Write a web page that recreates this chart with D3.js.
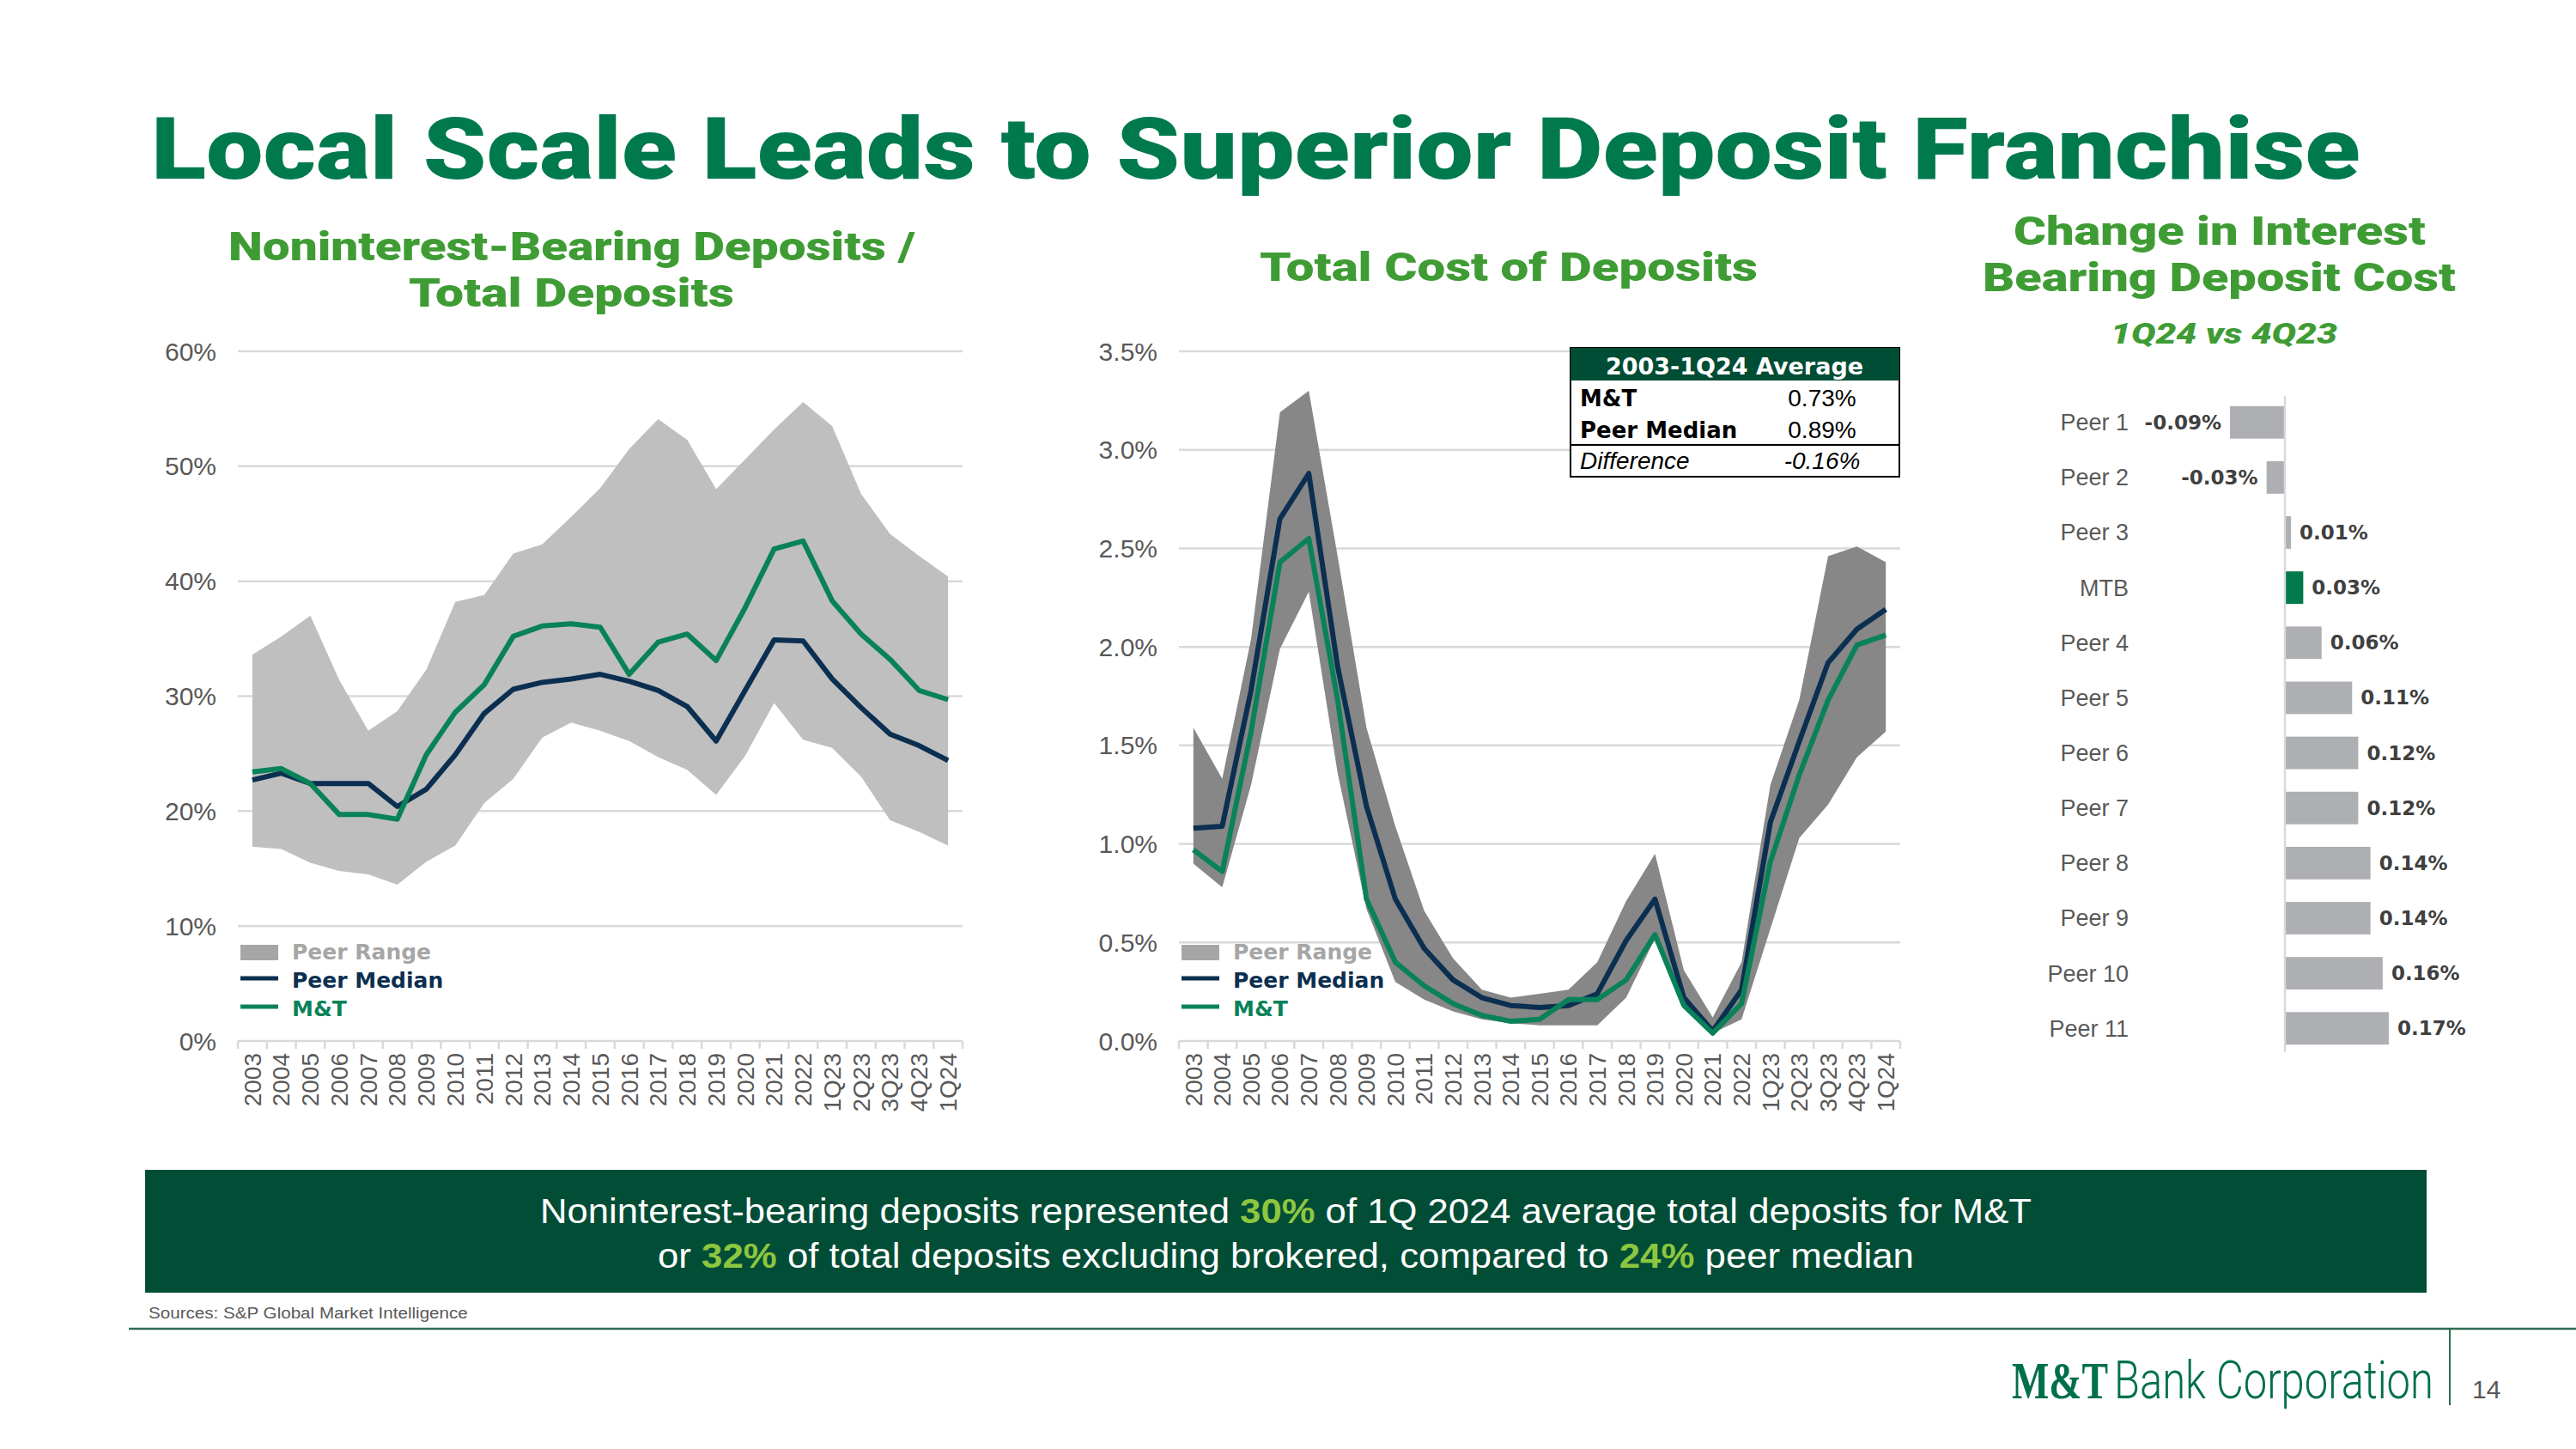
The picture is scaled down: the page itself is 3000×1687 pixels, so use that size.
<!DOCTYPE html>
<html>
<head>
<meta charset="utf-8">
<script src="https://cdn.jsdelivr.net/npm/d3@7.9.0/dist/d3.min.js"></script>
<style>
  html, body { margin: 0; padding: 0; background: #fff; }
  svg { display: block; }
</style>
</head>
<body>
<svg id="slide" width="3000" height="1687"></svg>
<script>
// periods shared by both line charts
const periods = ['2003','2004','2005','2006','2007','2008','2009','2010','2011','2012',
  '2013','2014','2015','2016','2017','2018','2019','2020','2021','2022',
  '1Q23','2Q23','3Q23','4Q23','1Q24'];

// noninterest-bearing deposits / total deposits (%)
const nibHigh = [33.6,35.2,37.0,31.4,27.0,28.7,32.3,38.2,38.8,42.4,43.2,45.6,48.1,51.5,54.1,52.3,48.0,50.6,53.2,55.6,53.5,47.6,44.1,42.2,40.4];
const nibLow = [16.9,16.7,15.5,14.8,14.5,13.6,15.6,17.0,20.7,22.8,26.4,27.7,27.0,26.1,24.7,23.6,21.4,24.8,29.4,26.2,25.5,23.0,19.2,18.2,17.0];
const nibMedian = [22.7,23.3,22.4,22.4,22.4,20.4,21.9,24.9,28.5,30.6,31.2,31.5,31.9,31.3,30.5,29.1,26.1,30.5,34.9,34.8,31.5,29.0,26.7,25.7,24.4];
const nibMT = [23.4,23.7,22.4,19.7,19.7,19.3,24.9,28.6,31.0,35.2,36.1,36.3,36.0,31.9,34.7,35.4,33.1,37.7,42.8,43.5,38.3,35.4,33.2,30.5,29.7];
const nibTicks = [0,10,20,30,40,50,60];

// total cost of deposits (%)
const costHigh = [1.59,1.33,2.04,3.19,3.30,2.46,1.59,1.09,0.66,0.42,0.26,0.22,0.24,0.26,0.40,0.71,0.95,0.36,0.12,0.40,1.30,1.73,2.46,2.51,2.43];
const costLow = [0.90,0.78,1.30,1.99,2.28,1.36,0.67,0.30,0.21,0.15,0.11,0.09,0.08,0.08,0.08,0.22,0.52,0.18,0.04,0.11,0.57,1.03,1.20,1.44,1.57];
const costMedian = [1.08,1.09,1.78,2.65,2.88,1.90,1.19,0.72,0.47,0.31,0.22,0.18,0.17,0.18,0.24,0.51,0.72,0.22,0.05,0.26,1.11,1.52,1.92,2.09,2.19];
const costMT = [0.97,0.86,1.57,2.43,2.55,1.73,0.72,0.40,0.28,0.19,0.13,0.10,0.11,0.21,0.21,0.31,0.54,0.18,0.04,0.19,0.91,1.35,1.73,2.01,2.06];
const costTicks = [0,0.5,1,1.5,2,2.5,3,3.5];

// average table
const avgLabels = ['M&T','Peer Median','Difference'];
const avgValues = ['0.73%','0.89%','-0.16%'];

// change in interest bearing deposit cost, 1Q24 vs 4Q23 (%)
const peers = ['Peer 1','Peer 2','Peer 3','MTB','Peer 4','Peer 5','Peer 6','Peer 7','Peer 8','Peer 9','Peer 10','Peer 11'];
const peerChange = [-0.09,-0.03,0.01,0.03,0.06,0.11,0.12,0.12,0.14,0.14,0.16,0.17];

const legendItems = ['Peer Range','Peer Median','M&T'];

const GREEN = '#007a4d';
const SUB = '#3f9c35';
const NAVY = '#0b2f50';
const LINE_GREEN = '#0a8259';
const TXT = '#595959';
const sans = "'Liberation Sans', Arial, sans-serif";
const heavy = "Roboto, 'DejaVu Sans', sans-serif";
const wide = "'DejaVu Sans', Verdana, sans-serif";

const svg = d3.select('#slide');

// text helper; when a width is given the text is squeezed/stretched with a transform
function label(x, y, text, opts = {}) {
  const t = svg.append('text')
    .attr('x', 0).attr('y', 0)
    .attr('font-family', opts.family || sans)
    .attr('font-size', opts.size || 28)
    .attr('font-weight', opts.weight || 400)
    .attr('fill', opts.fill || TXT)
    .attr('text-anchor', opts.anchor || 'start')
    .text(text);
  if (opts.italic) t.attr('font-style', 'italic');
  let sx = 1;
  if (opts.len) sx = opts.len / t.node().getComputedTextLength();
  t.attr('transform', `translate(${x},${y}) scale(${sx},1)`);
  return t;
}

// titles
label(176, 208, 'Local Scale Leads to Superior Deposit Franchise',
  { family: heavy, size: 100, weight: 900, fill: GREEN, len: 2573 });
label(266, 303, 'Noninterest-Bearing Deposits /', { family: heavy, size: 47, weight: 900, fill: SUB, len: 800 });
label(476, 357, 'Total Deposits', { family: heavy, size: 47, weight: 900, fill: SUB, len: 379 });
label(1467, 327, 'Total Cost of Deposits', { family: heavy, size: 47, weight: 900, fill: SUB, len: 580 });
label(2345, 285, 'Change in Interest', { family: heavy, size: 46, weight: 900, fill: SUB, len: 480 });
label(2309, 339, 'Bearing Deposit Cost', { family: heavy, size: 46, weight: 900, fill: SUB, len: 551 });
label(2458, 400, '1Q24 vs 4Q23', { family: heavy, size: 33, weight: 900, fill: SUB, len: 264, italic: true });

const yTop = 409, yBot = 1212;

function rangeChart(cfg) {
  const x = d3.scaleBand().domain(periods).range([cfg.x0, cfg.x1]);
  const y = d3.scaleLinear().domain([0, cfg.ticks[cfg.ticks.length - 1]]).range([yBot, yTop]);
  const cx = (i) => x(periods[i]) + x.bandwidth() / 2;
  const g = svg.append('g');

  g.selectAll('line.grid').data(cfg.ticks).join('line')
    .attr('x1', cfg.x0).attr('x2', cfg.x1)
    .attr('y1', (d) => y(d)).attr('y2', (d) => y(d))
    .attr('stroke', '#d9d9d9').attr('stroke-width', 2.5);

  g.selectAll('text.ytick').data(cfg.ticks).join('text')
    .attr('x', cfg.x0 - 25).attr('y', (d) => y(d)).attr('dy', '0.35em')
    .attr('text-anchor', 'end').attr('font-family', sans).attr('font-size', 30)
    .attr('fill', TXT).text(cfg.fmt);

  // band boundary ticks
  const edges = periods.map((p) => x(p)).concat([cfg.x1]);
  g.selectAll('line.xtick').data(edges).join('line')
    .attr('x1', (d) => d).attr('x2', (d) => d)
    .attr('y1', yBot).attr('y2', yBot + 9)
    .attr('stroke', '#d9d9d9').attr('stroke-width', 2.5);

  g.selectAll('text.xlab').data(periods).join('text')
    .attr('transform', (d) => `translate(${x(d) + x.bandwidth() / 2},${yBot + 14}) rotate(-90)`)
    .attr('dy', '0.35em').attr('text-anchor', 'end')
    .attr('font-family', sans).attr('font-size', 28).attr('fill', TXT)
    .text((d) => d);

  const area = d3.area().x((d, i) => cx(i)).y0((d, i) => y(cfg.low[i])).y1((d) => y(d));
  g.append('path').attr('d', area(cfg.high)).attr('fill', cfg.fill);

  const line = d3.line().x((d, i) => cx(i)).y((d) => y(d));
  g.append('path').attr('d', line(cfg.median)).attr('fill', 'none')
    .attr('stroke', NAVY).attr('stroke-width', 6).attr('stroke-linejoin', 'round');
  g.append('path').attr('d', line(cfg.mt)).attr('fill', 'none')
    .attr('stroke', LINE_GREEN).attr('stroke-width', 6).attr('stroke-linejoin', 'round');

  // legend
  const lx = cfg.x0 + 3;
  g.append('rect').attr('x', lx).attr('y', 1100).attr('width', 44).attr('height', 18).attr('fill', cfg.legendFill);
  g.append('line').attr('x1', lx).attr('x2', lx + 44).attr('y1', 1139).attr('y2', 1139)
    .attr('stroke', NAVY).attr('stroke-width', 5);
  g.append('line').attr('x1', lx).attr('x2', lx + 44).attr('y1', 1172).attr('y2', 1172)
    .attr('stroke', LINE_GREEN).attr('stroke-width', 5);
  const colors = ['#a6a6a6', NAVY, LINE_GREEN];
  legendItems.forEach((t, i) => {
    g.append('text').attr('x', lx + 60).attr('y', 1117 + i * 33)
      .attr('font-family', wide).attr('font-weight', 700).attr('font-size', 25)
      .attr('fill', colors[i]).text(t);
  });
}

rangeChart({
  x0: 277, x1: 1121, ticks: nibTicks, fmt: (d) => d + '%',
  high: nibHigh, low: nibLow, median: nibMedian, mt: nibMT,
  fill: '#bfbfbf', legendFill: '#a6a6a6'
});

rangeChart({
  x0: 1373, x1: 2213, ticks: costTicks, fmt: (d) => d.toFixed(1) + '%',
  high: costHigh, low: costLow, median: costMedian, mt: costMT,
  fill: '#878787', legendFill: '#a6a6a6'
});

// average table
const tb = svg.append('g');
tb.append('rect').attr('x', 1829).attr('y', 405).attr('width', 383).attr('height', 150)
  .attr('fill', '#fff').attr('stroke', '#000').attr('stroke-width', 2);
tb.append('rect').attr('x', 1829).attr('y', 405).attr('width', 383).attr('height', 38).attr('fill', '#004d35');
tb.append('line').attr('x1', 1829).attr('x2', 2212).attr('y1', 518).attr('y2', 518)
  .attr('stroke', '#000').attr('stroke-width', 2);
tb.append('text').attr('x', 2020).attr('y', 436).attr('text-anchor', 'middle')
  .attr('font-family', wide).attr('font-weight', 700).attr('font-size', 27).attr('fill', '#fff')
  .text('2003-1Q24 Average');
const rowY = [473, 510, 546];
avgLabels.forEach((t, i) => {
  const italic = i === 2;
  tb.append('text').attr('x', 1840).attr('y', rowY[i])
    .attr('font-family', italic ? sans : wide).attr('font-weight', italic ? 400 : 700)
    .attr('font-style', italic ? 'italic' : 'normal')
    .attr('font-size', italic ? 28 : 26).attr('fill', '#000').text(t);
  tb.append('text').attr('x', 2122).attr('y', rowY[i]).attr('text-anchor', 'middle')
    .attr('font-family', sans).attr('font-style', italic ? 'italic' : 'normal')
    .attr('font-size', 28).attr('fill', '#000').text(avgValues[i]);
});

// change bar chart
const by = d3.scaleBand().domain(peers).range([460, 1229]).paddingInner(0.41).paddingOuter(0.2);
const bx = d3.scaleLinear().domain([0, 0.17]).range([2661, 2782]);
const bars = svg.append('g');
bars.selectAll('rect').data(peers).join('rect')
  .attr('x', (d, i) => Math.min(bx(0), bx(peerChange[i])))
  .attr('y', (d) => by(d))
  .attr('width', (d, i) => Math.abs(bx(peerChange[i]) - bx(0)))
  .attr('height', by.bandwidth())
  .attr('fill', (d) => d === 'MTB' ? '#007a4d' : '#adafb2');
bars.append('line').attr('x1', 2661).attr('x2', 2661).attr('y1', 461).attr('y2', 1225)
  .attr('stroke', '#d9d9d9').attr('stroke-width', 2.5);
bars.selectAll('text.cat').data(peers).join('text')
  .attr('x', 2479).attr('y', (d) => by(d) + by.bandwidth() / 2).attr('dy', '0.35em')
  .attr('text-anchor', 'end').attr('font-family', sans).attr('font-size', 27)
  .attr('fill', TXT).text((d) => d);
bars.selectAll('text.val').data(peers).join('text')
  .attr('x', (d, i) => peerChange[i] < 0 ? bx(peerChange[i]) - 10 : bx(peerChange[i]) + 10)
  .attr('y', (d) => by(d) + by.bandwidth() / 2).attr('dy', '0.35em')
  .attr('text-anchor', (d, i) => peerChange[i] < 0 ? 'end' : 'start')
  .attr('font-family', wide).attr('font-weight', 700).attr('font-size', 23)
  .attr('fill', '#404040')
  .text((d, i) => peerChange[i].toFixed(2) + '%');

// takeaway box
svg.append('rect').attr('x', 169).attr('y', 1362).attr('width', 2657).attr('height', 143).attr('fill', '#024d36');
const hl = '#8dc63f';
const l1 = svg.append('text').attr('x', 629).attr('y', 1424).attr('font-family', sans)
  .attr('font-size', 41).attr('fill', '#fff').attr('textLength', 1737).attr('lengthAdjust', 'spacingAndGlyphs');
l1.append('tspan').text('Noninterest-bearing deposits represented ');
l1.append('tspan').attr('fill', hl).attr('font-weight', 700).text('30%');
l1.append('tspan').text(' of 1Q 2024 average total deposits for M&T');
const l2 = svg.append('text').attr('x', 766).attr('y', 1476).attr('font-family', sans)
  .attr('font-size', 41).attr('fill', '#fff').attr('textLength', 1463).attr('lengthAdjust', 'spacingAndGlyphs');
l2.append('tspan').text('or ');
l2.append('tspan').attr('fill', hl).attr('font-weight', 700).text('32%');
l2.append('tspan').text(' of total deposits excluding brokered, compared to ');
l2.append('tspan').attr('fill', hl).attr('font-weight', 700).text('24%');
l2.append('tspan').text(' peer median');

// footer
label(173, 1535, 'Sources: S&P Global Market Intelligence', { size: 19, fill: '#595959', len: 372 });
svg.append('line').attr('x1', 150).attr('x2', 3000).attr('y1', 1547).attr('y2', 1547)
  .attr('stroke', '#2f6b50').attr('stroke-width', 2.5);
svg.append('line').attr('x1', 2853).attr('x2', 2853).attr('y1', 1547).attr('y2', 1636)
  .attr('stroke', '#2f6b50').attr('stroke-width', 2);
label(2879, 1628, '14', { size: 30, fill: '#595959' });
label(2343, 1628, 'M&T', { family: "'Liberation Serif', serif", size: 62, weight: 700, fill: '#00704a', len: 112 });
label(2462, 1628, 'Bank Corporation', { family: heavy, size: 62, weight: 300, fill: '#00704a', len: 372 });
</script>
</body>
</html>
